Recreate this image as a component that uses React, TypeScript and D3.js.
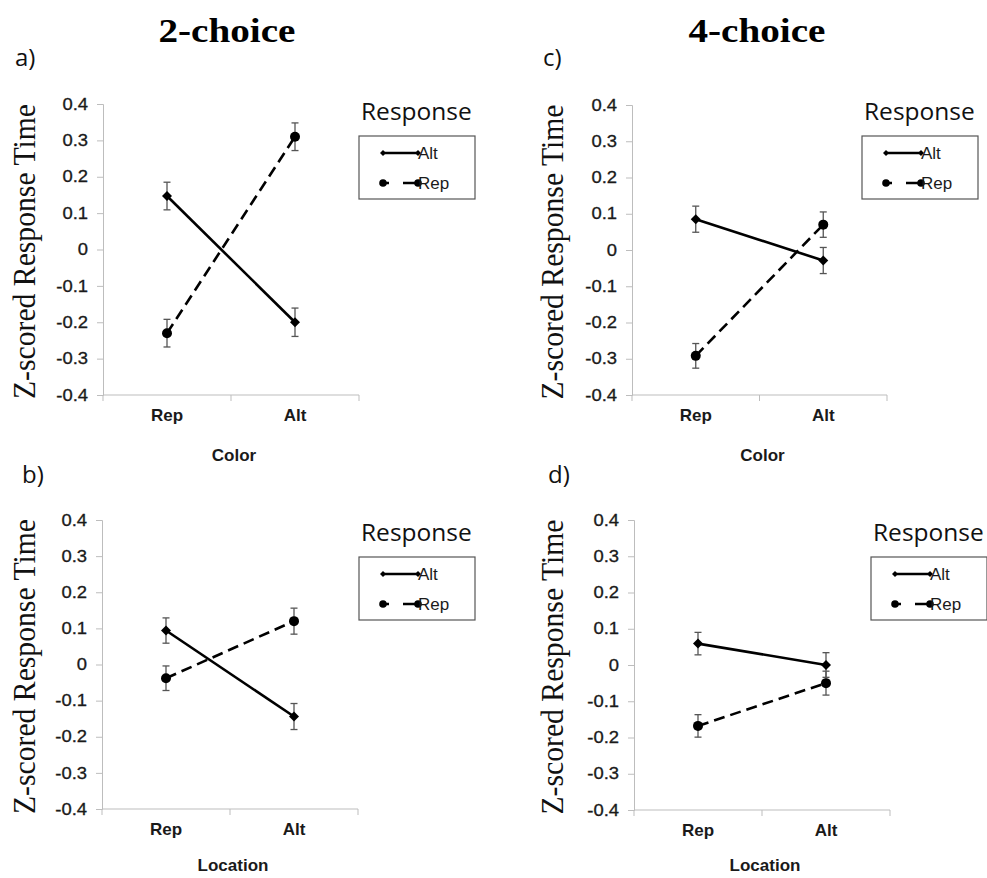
import React, { useRef, useEffect } from 'react';
import * as d3 from 'd3';

const categories = ['Rep', 'Alt'];
const yTicks = [0.4, 0.3, 0.2, 0.1, 0, -0.1, -0.2, -0.3, -0.4];

// a) 2-choice, colour
const altMeanA = [0.147, -0.2];
const altErrA = [0.038, 0.039];
const repMeanA = [-0.23, 0.31];
const repErrA = [0.038, 0.038];

// b) 2-choice, location
const altMeanB = [0.094, -0.144];
const altErrB = [0.035, 0.036];
const repMeanB = [-0.038, 0.12];
const repErrB = [0.034, 0.036];

// c) 4-choice, colour
const altMeanC = [0.085, -0.029];
const altErrC = [0.036, 0.036];
const repMeanC = [-0.292, 0.07];
const repErrC = [0.034, 0.035];

// d) 4-choice, location
const altMeanD = [0.059, 0.0];
const altErrD = [0.031, 0.034];
const repMeanD = [-0.168, -0.05];
const repErrD = [0.031, 0.033];

const columnTitles = ['2-choice', '4-choice'];
const panelLetters = ['a)', 'b)', 'c)', 'd)'];
const xTitles = ['Color', 'Location', 'Color', 'Location'];
const yTitle = 'Z-scored Response Time';
const legendTitle = 'Response';
const legendNames = ['Alt', 'Rep'];

const panelData = [
    { alt: altMeanA, altErr: altErrA, rep: repMeanA, repErr: repErrA },
    { alt: altMeanB, altErr: altErrB, rep: repMeanB, repErr: repErrB },
    { alt: altMeanC, altErr: altErrC, rep: repMeanC, repErr: repErrC },
    { alt: altMeanD, altErr: altErrD, rep: repMeanD, repErr: repErrD }
];

// where each panel sits on the page
const layout = [
    { left: 103, right: 359, top: 104, bottom: 395, letter: [15, 66], legend: [359, 136], yLabelX: 35, titleDy: 66 },
    { left: 102, right: 358, top: 520, bottom: 809, letter: [22, 483], legend: [359, 557], yLabelX: 35, titleDy: 62 },
    { left: 632, right: 887, top: 105, bottom: 395, letter: [543, 66], legend: [862, 136], yLabelX: 563, titleDy: 66 },
    { left: 634, right: 890, top: 520, bottom: 810, letter: [548, 483], legend: [871, 557], yLabelX: 563, titleDy: 61 }
];

const SANS = 'Liberation Sans, Arial, sans-serif';
const SERIF = 'Liberation Serif, Times New Roman, serif';
const OPEN = 'Open Sans, sans-serif';
const AXIS = '#bdbdbd';

const drawPanel = (svg, p, d, i) => {
    const band = d3.scaleBand().domain(categories).range([p.left, p.right]);
    const cx = c => band(c) + band.bandwidth() / 2;
    const y = d3.scaleLinear().domain([-0.4, 0.4]).range([p.bottom, p.top]);
    const g = svg.append('g');

    // y axis
    const yAxis = g.append('g')
        .attr('transform', 'translate(' + p.left + ',0)')
        .call(d3.axisLeft(y)
            .tickValues(yTicks)
            .tickSize(6)
            .tickPadding(9)
            .tickFormat(v => (v === 0 ? '0' : v.toFixed(1))));
    yAxis.select('.domain').attr('stroke', AXIS);
    yAxis.selectAll('.tick line').attr('stroke', AXIS);
    yAxis.selectAll('.tick text')
        .attr('font-family', SANS)
        .attr('font-size', 16)
        .attr('fill', '#1a1a1a')
        .attr('stroke', '#1a1a1a')
        .attr('stroke-width', 0.3)
        .each(function () {
            const len = this.getComputedTextLength();
            d3.select(this).attr('textLength', len * 1.15).attr('lengthAdjust', 'spacingAndGlyphs');
        });

    // x axis, ticks sit between categories
    g.append('line')
        .attr('x1', p.left).attr('x2', p.right)
        .attr('y1', p.bottom).attr('y2', p.bottom)
        .attr('stroke', AXIS);
    const edges = categories.map(c => band(c)).concat([p.right]);
    g.selectAll('.xtick').data(edges).enter().append('line')
        .attr('x1', e => e).attr('x2', e => e)
        .attr('y1', p.bottom).attr('y2', p.bottom + 6)
        .attr('stroke', AXIS);
    g.selectAll('.xlabel').data(categories).enter().append('text')
        .attr('x', c => cx(c))
        .attr('y', p.bottom + 26)
        .attr('text-anchor', 'middle')
        .attr('font-family', SANS)
        .attr('font-weight', 'bold')
        .attr('font-size', 17)
        .attr('fill', '#1a1a1a')
        .text(c => c);

    // x axis title
    g.append('text')
        .attr('x', (p.left + p.right) / 2 + 3)
        .attr('y', p.bottom + p.titleDy)
        .attr('text-anchor', 'middle')
        .attr('font-family', SANS)
        .attr('font-weight', 'bold')
        .attr('font-size', 17)
        .attr('fill', '#1a1a1a')
        .text(xTitles[i]);

    // y axis title
    g.append('text')
        .attr('transform', 'translate(' + p.yLabelX + ',' + ((p.top + p.bottom) / 2 + 2) + ') rotate(-90)')
        .attr('text-anchor', 'middle')
        .attr('font-family', SERIF)
        .attr('font-size', 31)
        .attr('fill', '#111')
        .attr('textLength', 295)
        .attr('lengthAdjust', 'spacingAndGlyphs')
        .text(yTitle);

    // panel letter
    g.append('text')
        .attr('x', p.letter[0]).attr('y', p.letter[1])
        .attr('font-family', OPEN)
        .attr('font-size', 24)
        .attr('fill', '#111')
        .text(panelLetters[i]);

    const series = [
        { means: d.alt, errs: d.altErr, dash: null, marker: 'diamond' },
        { means: d.rep, errs: d.repErr, dash: '11,6', marker: 'circle' }
    ];

    series.forEach(s => {
        const pts = categories.map((c, k) => ({ x: cx(c), m: s.means[k], e: s.errs[k] }));

        // error bars
        const eb = g.append('g').attr('stroke', '#555').attr('stroke-width', 1.3);
        pts.forEach(pt => {
            eb.append('line').attr('x1', pt.x).attr('x2', pt.x)
                .attr('y1', y(pt.m - pt.e)).attr('y2', y(pt.m + pt.e));
            [pt.m - pt.e, pt.m + pt.e].forEach(v => {
                eb.append('line').attr('x1', pt.x - 3.5).attr('x2', pt.x + 3.5)
                    .attr('y1', y(v)).attr('y2', y(v));
            });
        });

        g.append('path')
            .attr('d', d3.line().x(pt => pt.x).y(pt => y(pt.m))(pts))
            .attr('fill', 'none')
            .attr('stroke', '#000')
            .attr('stroke-width', 2.6)
            .attr('stroke-dasharray', s.dash);

        pts.forEach(pt => {
            if (s.marker === 'circle') {
                g.append('circle').attr('cx', pt.x).attr('cy', y(pt.m)).attr('r', 5).attr('fill', '#000');
            } else {
                g.append('path')
                    .attr('d', d3.symbol(d3.symbolSquare, 50)())
                    .attr('transform', 'translate(' + pt.x + ',' + y(pt.m) + ') rotate(45)')
                    .attr('fill', '#000');
            }
        });
    });

    // legend
    const [bx, by] = p.legend;
    g.append('text')
        .attr('x', bx + 2).attr('y', by - 16)
        .attr('font-family', OPEN)
        .attr('font-size', 24.5)
        .attr('fill', '#111')
        .text(legendTitle);
    g.append('rect')
        .attr('x', bx).attr('y', by)
        .attr('width', 116).attr('height', 63)
        .attr('fill', '#fff')
        .attr('stroke', '#555')
        .attr('stroke-width', 1.2);

    legendNames.forEach((name, k) => {
        const ly = by + 17 + k * 30;
        g.append('line')
            .attr('x1', bx + 24).attr('x2', bx + 60)
            .attr('y1', ly).attr('y2', ly)
            .attr('stroke', '#000')
            .attr('stroke-width', 2.4)
            .attr('stroke-dasharray', k === 0 ? null : '6,14,30');
        [bx + 24, bx + 59].forEach(mx => {
            if (k === 0) {
                g.append('path')
                    .attr('d', d3.symbol(d3.symbolSquare, 18)())
                    .attr('transform', 'translate(' + mx + ',' + ly + ') rotate(45)')
                    .attr('fill', '#000');
            } else {
                g.append('circle').attr('cx', mx).attr('cy', ly).attr('r', 3.8).attr('fill', '#000');
            }
        });
        g.append('text')
            .attr('x', bx + 59).attr('y', ly + 6)
            .attr('font-family', SANS)
            .attr('font-size', 17)
            .attr('fill', '#1a1a1a')
            .text(name);
    });
};

const PanelFigure = () => {
    const ref = useRef(null);
    useEffect(() => {
        const svg = d3.select(ref.current);
        svg.selectAll('*').remove();
        svg.append('rect').attr('width', 987).attr('height', 878).attr('fill', '#fff');

        // column titles
        svg.selectAll('.coltitle').data(columnTitles).enter().append('text')
            .attr('x', (t, k) => (k === 0 ? 227 : 757))
            .attr('y', 42)
            .attr('text-anchor', 'middle')
            .attr('font-family', SERIF)
            .attr('font-weight', 'bold')
            .attr('font-size', 33)
            .attr('fill', '#000')
            .attr('textLength', 137)
            .attr('lengthAdjust', 'spacingAndGlyphs')
            .text(t => t);

        layout.forEach((p, i) => drawPanel(svg, p, panelData[i], i));
    }, []);

    return <svg ref={ref} width={987} height={878} style={{ position: 'absolute', left: 0, top: 0 }}></svg>;
};

export default function App() {
    return <PanelFigure />;
}
